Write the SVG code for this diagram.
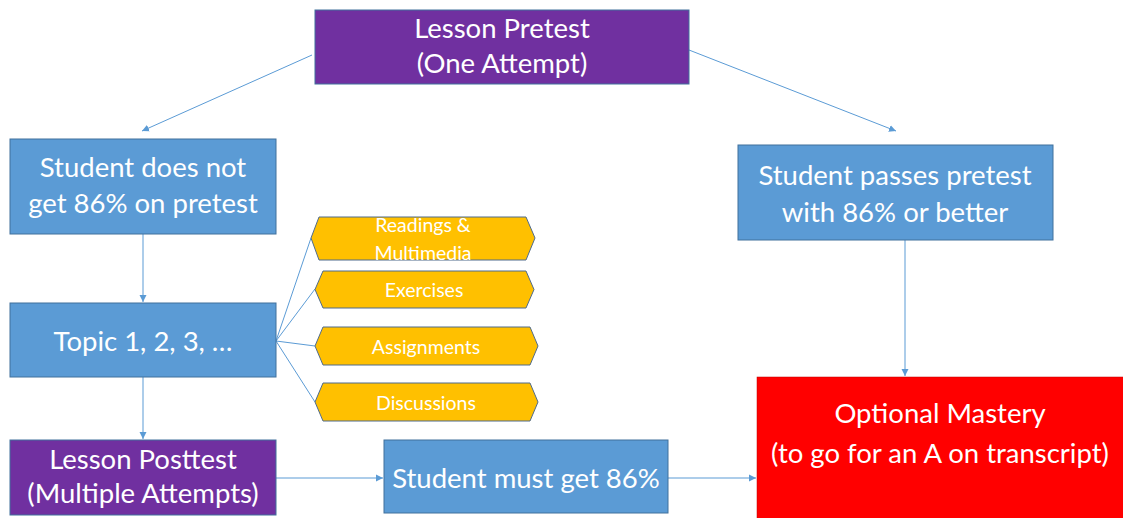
<svg xmlns="http://www.w3.org/2000/svg" width="1123" height="518" viewBox="0 0 1123 518">
  <style>
    .box { stroke: #41719C; stroke-width: 1; }
    .purple { fill: #7030A0; }
    .blue { fill: #5B9BD5; }
    .red { fill: #FF0000; stroke: #C00000; stroke-width: 0.5; }
    .hex { fill: #FFC000; stroke: #4F6B8C; stroke-width: 1; }
    .t { font-family: Lato, "Liberation Sans", sans-serif; fill: #FFFFFF; text-anchor: middle; }
    .big { font-size: 27.5px; }
    .small { font-size: 19.5px; }
    .conn { stroke: #5B9BD5; stroke-width: 1; fill: none; }
  </style>
  <defs>
    <marker id="arr" markerWidth="8" markerHeight="8" refX="7" refY="4" orient="auto" markerUnits="userSpaceOnUse">
      <path d="M0,0.5 L7,4 L0,7.5 Z" fill="#5B9BD5"/>
    </marker>
  </defs>
  <rect width="1123" height="518" fill="#FFFFFF"/>

  <!-- connectors -->
  <g id="connectors">
    <line class="conn" x1="312" y1="55" x2="142" y2="131" marker-end="url(#arr)"/>
    <line class="conn" x1="689" y1="50" x2="896" y2="131" marker-end="url(#arr)"/>
    <line class="conn" x1="143" y1="234" x2="143" y2="302" marker-end="url(#arr)"/>
    <line class="conn" x1="143" y1="377" x2="143" y2="439" marker-end="url(#arr)"/>
    <line class="conn" x1="905" y1="240" x2="905" y2="376" marker-end="url(#arr)"/>
    <line class="conn" x1="276" y1="478" x2="383" y2="478" marker-end="url(#arr)"/>
    <line class="conn" x1="668" y1="478" x2="756" y2="478" marker-end="url(#arr)"/>
    <line class="conn" x1="276" y1="341" x2="311" y2="238"/>
    <line class="conn" x1="276" y1="341" x2="315" y2="289"/>
    <line class="conn" x1="276" y1="341" x2="315" y2="346"/>
    <line class="conn" x1="276" y1="341" x2="315" y2="402"/>
  </g>

  <g id="lesson-pretest">
    <rect class="box purple" x="315" y="10" width="374" height="74" stroke="#5B9BD5"/>
    <text class="t big" x="502" y="38">Lesson Pretest</text>
    <text class="t big" x="502" y="73">(One Attempt)</text>
  </g>

  <g id="student-fails">
    <rect class="box blue" x="10" y="139" width="266" height="95"/>
    <text class="t big" x="143" y="177">Student does not</text>
    <text class="t big" x="143" y="213">get 86% on pretest</text>
  </g>

  <g id="topics">
    <rect class="box blue" x="10" y="303" width="266" height="74"/>
    <text class="t big" x="143" y="351">Topic 1, 2, 3, …</text>
  </g>

  <g id="lesson-posttest">
    <rect class="box purple" x="10" y="440" width="266" height="75"/>
    <text class="t big" x="143" y="469">Lesson Posttest</text>
    <text class="t big" x="143" y="503">(Multiple Attempts)</text>
  </g>

  <g id="readings">
    <polygon class="hex" points="311,238 319,217 526,217 535,238 526,260 319,260"/>
    <text class="t small" x="423" y="232">Readings &amp;</text>
    <text class="t small" x="423" y="260">Multimedia</text>
  </g>

  <g id="exercises">
    <polygon class="hex" points="315,289.5 323,271 526,271 534,289.5 526,308 323,308"/>
    <text class="t small" x="424" y="297">Exercises</text>
  </g>

  <g id="assignments">
    <polygon class="hex" points="315,346 323,327 530,327 538,346 530,365 323,365"/>
    <text class="t small" x="426" y="354">Assignments</text>
  </g>

  <g id="discussions">
    <polygon class="hex" points="315,402 323,383 530,383 538,402 530,421 323,421"/>
    <text class="t small" x="426" y="410">Discussions</text>
  </g>

  <g id="student-passes">
    <rect class="box blue" x="738" y="145" width="315" height="95"/>
    <text class="t big" x="895" y="185">Student passes pretest</text>
    <text class="t big" x="895" y="222">with 86% or better</text>
  </g>

  <g id="must-get">
    <rect class="box blue" x="384" y="440" width="284" height="73"/>
    <text class="t big" x="526" y="488">Student must get 86%</text>
  </g>

  <g id="optional-mastery">
    <rect class="red" x="757" y="377" width="368" height="145"/>
    <text class="t big" x="940" y="423">Optional Mastery</text>
    <text class="t big" x="940" y="463">(to go for an A on transcript)</text>
  </g>
</svg>
